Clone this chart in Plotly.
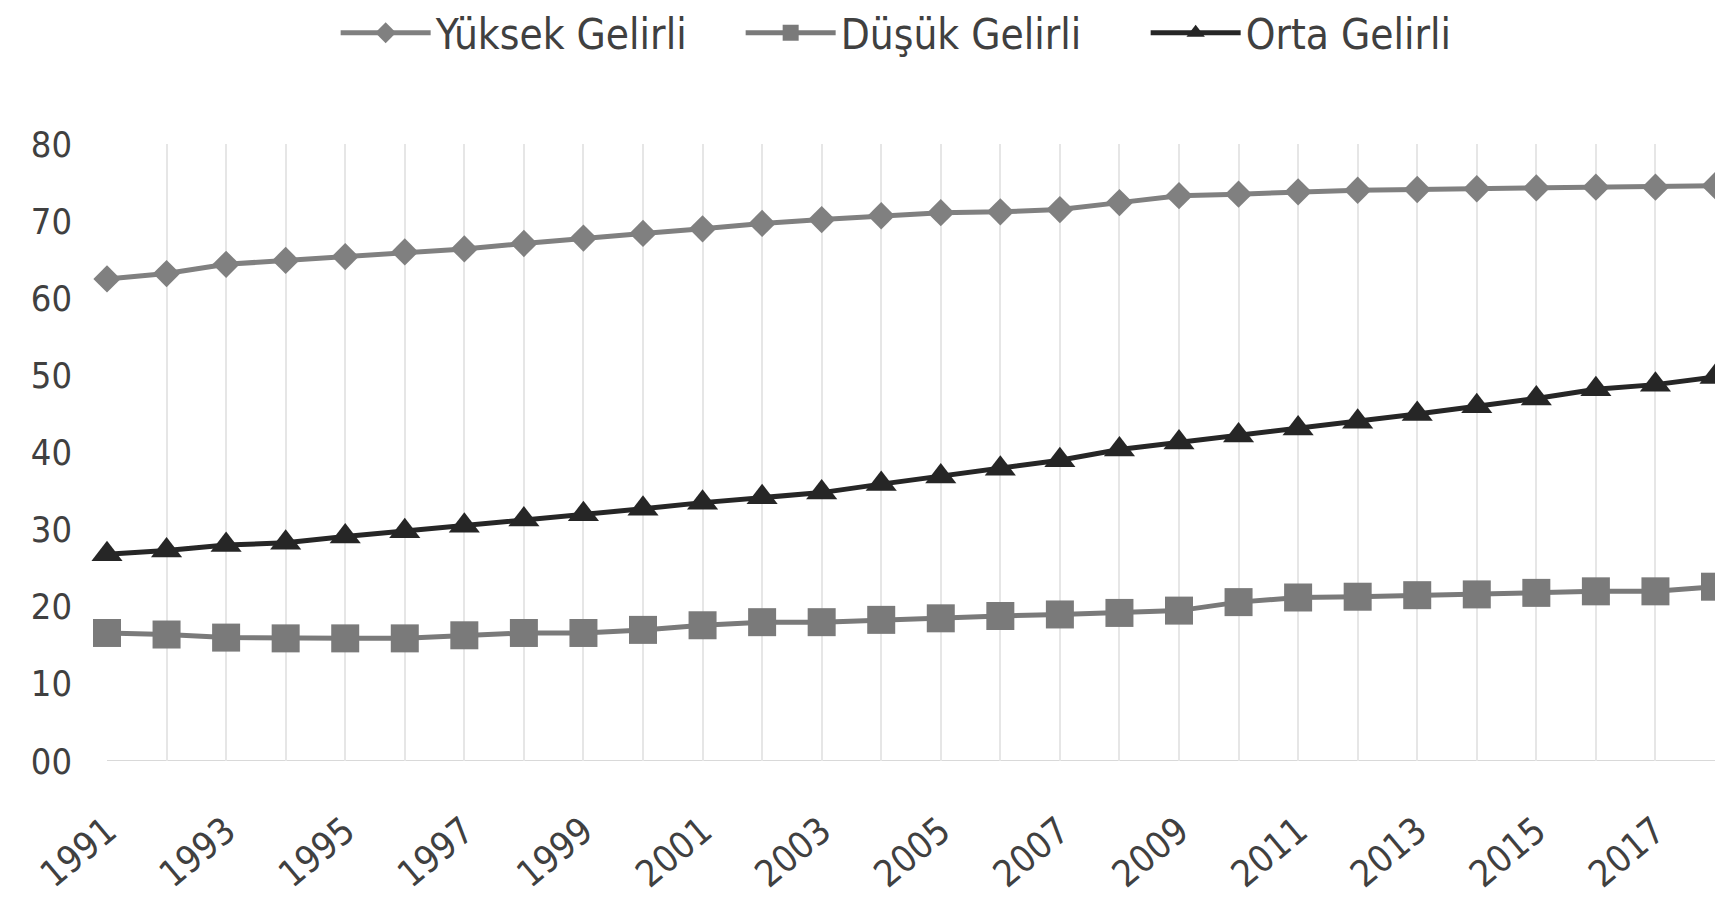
import plotly.graph_objects as go

years = list(range(1991, 2019))
yuksek = [62.5, 63.2, 64.4, 64.9, 65.4, 66.0, 66.4, 67.1, 67.8, 68.4, 69.0, 69.7, 70.2, 70.7,
          71.1, 71.2, 71.5, 72.4, 73.3, 73.5, 73.8, 74.0, 74.1, 74.2, 74.3, 74.4, 74.4, 74.6]
dusuk = [16.6, 16.4, 16.0, 15.9, 15.9, 15.9, 16.3, 16.6, 16.6, 17.0, 17.6, 18.0, 18.0, 18.3,
         18.5, 18.8, 19.0, 19.2, 19.5, 20.6, 21.2, 21.3, 21.5, 21.6, 21.8, 22.0, 22.0, 22.6]
orta = [26.8, 27.3, 28.0, 28.3, 29.1, 29.8, 30.5, 31.3, 32.0, 32.7, 33.5, 34.2, 34.8, 35.9,
        36.9, 37.9, 39.0, 40.4, 41.3, 42.2, 43.1, 44.0, 45.0, 46.0, 47.0, 48.2, 48.8, 49.8]
series_names = ["Yüksek Gelirli", "Düşük Gelirli", "Orta Gelirli"]
x_tick_years = list(range(1991, 2018, 2))
y_tick_vals = [0, 10, 20, 30, 40, 50, 60, 70, 80]
y_tick_text = ["00", "10", "20", "30", "40", "50", "60", "70", "80"]

FONT = "Liberation Sans Narrow, DejaVu Sans Condensed, Liberation Sans, sans-serif"
TXT = "#404040"

fig = go.Figure()
fig.add_trace(go.Scatter(x=years, y=yuksek, name=series_names[0], mode="lines+markers",
                         line=dict(color="#808080", width=5),
                         marker=dict(symbol="diamond", size=21, color="#808080"),
                         cliponaxis=False))
fig.add_trace(go.Scatter(x=years, y=dusuk, name=series_names[1], mode="lines+markers",
                         line=dict(color="#7a7a7a", width=5),
                         marker=dict(symbol="square", size=28, color="#7a7a7a"),
                         cliponaxis=False))
fig.add_trace(go.Scatter(x=years, y=orta, name=series_names[2], mode="lines+markers",
                         line=dict(color="#262626", width=5),
                         marker=dict(symbol="triangle-up", size=27, color="#262626"),
                         cliponaxis=False))

fig.update_layout(
    width=1715, height=901,
    margin=dict(l=107, r=0, t=144, b=140, autoexpand=False),
    paper_bgcolor="white", plot_bgcolor="white",
    font=dict(family=FONT, color=TXT),
    showlegend=True,
    legend=dict(orientation="h", x=0.52, xanchor="center", y=1.18, yanchor="middle",
                font=dict(size=42, color=TXT, family=FONT), itemwidth=90,
                entrywidth=300, traceorder="normal"),
    xaxis=dict(range=[1991, 2018], tickmode="array", tickvals=x_tick_years,
               ticktext=[str(v) for v in x_tick_years], tickangle=-40,
               tickfont=dict(size=37, color=TXT, family=FONT),
               showgrid=True, gridcolor="#e6e6e6", gridwidth=2,
               zeroline=False, showline=False, ticks="", ticklabelstandoff=40,
               automargin=False),
    yaxis=dict(range=[0, 80], tickmode="array", tickvals=y_tick_vals, ticktext=y_tick_text,
               tickfont=dict(size=36, color=TXT, family=FONT),
               showgrid=False, zeroline=False, showline=False, ticks="",
               ticklabelstandoff=34, automargin=False),
)
# vertical gridlines for every year
fig.update_xaxes(minor=dict(tickmode="array", tickvals=years, showgrid=True,
                            gridcolor="#e6e6e6", gridwidth=2))
# baseline at zero
fig.add_hline(y=0, line=dict(color="#d9d9d9", width=2), layer="below")

fig.write_html("out.html")
